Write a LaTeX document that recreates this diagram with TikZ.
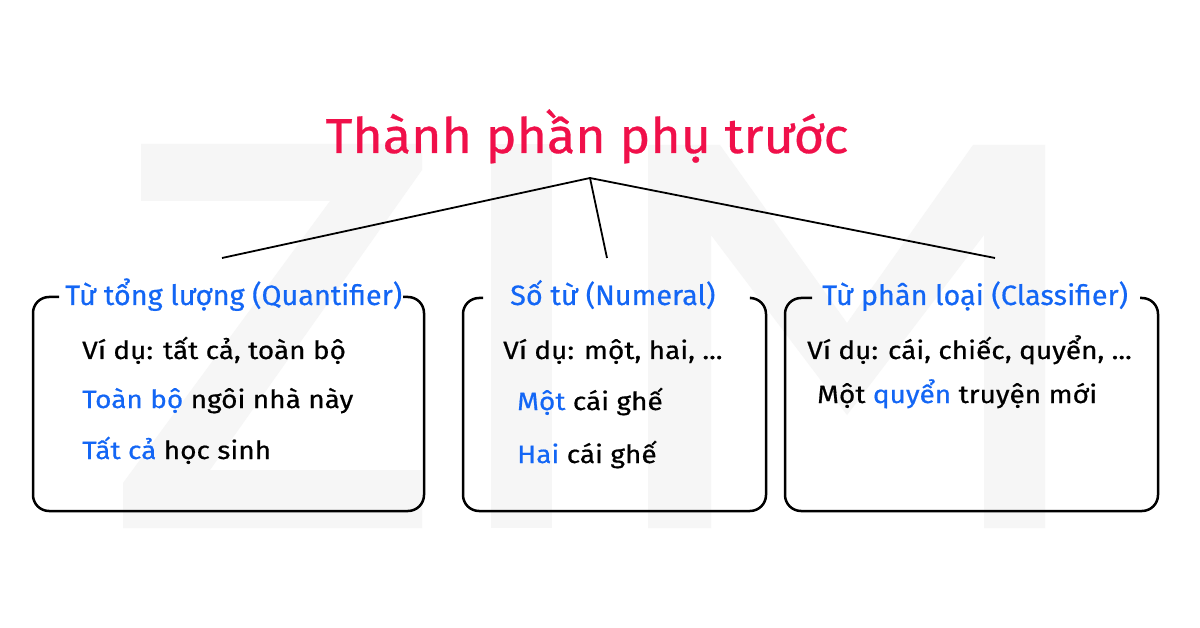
\documentclass[tikz,border=0pt]{standalone}
\usepackage{fontspec}
\setmainfont{Fira Sans}
\newfontfamily\titlefont[FakeStretch=1.06, FakeBold=0.6]{Fira Sans}
\newfontfamily\headfont[FakeStretch=1.03, FakeBold=0.5]{Fira Sans}
\newfontfamily\bodyfont[FakeStretch=1.12, FakeBold=0.6]{Fira Sans}
\usetikzlibrary{positioning}

\definecolor{zimred}{HTML}{F0104A}
\definecolor{zimblue}{HTML}{1366F5}
\colorlet{frame edge}{black}
\colorlet{mark area}{black!3.5}

\def\letterZ{(141,144) -- (422,144) -- (422,170) -- (210,470) -- (422,470) -- (422,528) -- (123,528) -- (123,483) -- (330,201) -- (141,201) -- cycle}
\def\letterI{(491,144) rectangle (552,528)}
\def\letterM{(648,145) -- (720,145) -- (847,323) -- (973,145) -- (1045,145) -- (1045,528) -- (984,528) -- (984,235) -- (847,415) -- (711,235) -- (711,528) -- (648,528) -- cycle}

\tikzset{
  frame/.style={draw=frame edge, line width=2.5pt, rounded corners=16pt},
  branch/.style={draw=frame edge, line width=1.8pt},
  maintitle/.style={font=\titlefont\fontsize{49}{54}\selectfont, text=zimred, inner sep=0pt, anchor=base},
  head/.style={font=\headfont\fontsize{28}{32}\selectfont, text=zimblue, inner sep=0pt, anchor=base west},
  body/.style={font=\bodyfont\fontsize{25}{29}\selectfont, inner sep=0pt, anchor=base west}
}

\begin{document}
\begin{tikzpicture}[x=1pt, y=-1pt]
  \fill[white] (0,0) rectangle (1200,628);
  \useasboundingbox (0,0) rectangle (1200,628);

  % watermark
  \fill[mark area] \letterZ;
  \fill[mark area] \letterI;
  \fill[mark area] \letterM;

  \node[maintitle] (title) at (587,153) {Thành phần phụ trước};

  \coordinate (apex) at (590,178);
  \coordinate (quant-tip) at (222,258);
  \coordinate (num-tip) at (607,258);
  \coordinate (cls-tip) at (995,258);

  \draw[branch] (apex) -- (quant-tip);
  \draw[branch] (apex) -- (num-tip);
  \draw[branch] (apex) -- (cls-tip);

  % Quantifier
  \draw[frame] (59,297) -| (33,511) -| (424,297) -- (403,297);
  \node[head] (quant-head) at (65,305) {Từ tổng lượng (Quantifier)};
  \node[body] (quant-ex) at (82,359) {Ví dụ: tất cả, toàn bộ};
  \node[body] (quant-a) at (82,408) {\textcolor{zimblue}{Toàn bộ} ngôi nhà này};
  \node[body] (quant-b) at (82,459) {\textcolor{zimblue}{Tất cả} học sinh};

  % Numeral
  \draw[frame] (483,298) -| (463,511) -| (766,298) -- (751,298);
  \node[head] (num-head) at (510,305) {Số từ (Numeral)};
  \node[body] (num-ex) at (503,359) {Ví dụ: một, hai, ...};
  \node[body] (num-a) at (517,410) {\textcolor{zimblue}{Một} cái ghế};
  \node[body] (num-b) at (517,463) {\textcolor{zimblue}{Hai} cái ghế};

  % Classifier
  \draw[frame] (812,298) -| (785,511) -| (1158,298) -- (1140,298);
  \node[head] (cls-head) at (822,305) {Từ phân loại (Classifier)};
  \node[body] (cls-ex) at (807,359) {Ví dụ: cái, chiếc, quyển, ...};
  \node[body] (cls-a) at (817,403) {Một \textcolor{zimblue}{quyển} truyện mới};

\end{tikzpicture}
\end{document}
